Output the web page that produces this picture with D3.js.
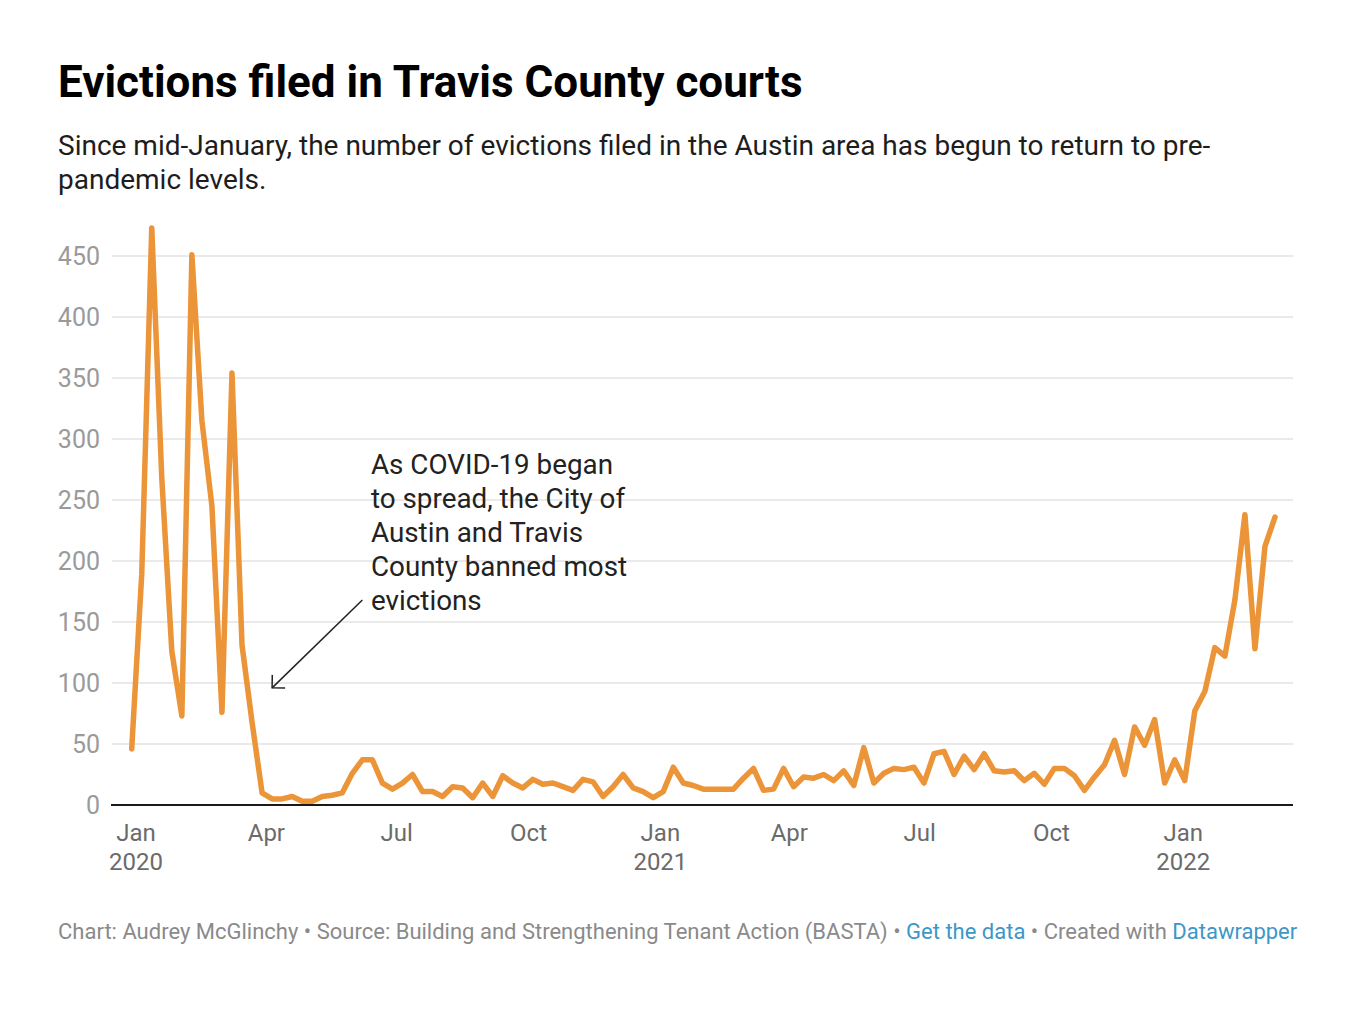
<!DOCTYPE html>
<html>
<head>
<meta charset="utf-8">
<script src="https://cdn.jsdelivr.net/npm/d3@7"></script>
<style>
  html, body { margin: 0; padding: 0; background: #fff; }
  svg { display: block; font-family: Roboto, "Noto Sans", sans-serif; }
</style>
</head>
<body>
<svg id="chart" width="1354" height="1014"></svg>
<script>
// ---- Data ----
const firstWeek = "2019-12-29";
const lastWeek = "2022-03-06";
const evictions = [
  46, 189, 473, 268, 126, 73, 451, 315, 245, 76,
  354, 131, 68, 10, 5, 5, 7, 3, 3, 7,
  8, 10, 26, 37, 37, 18, 13, 18, 25, 11,
  11, 7, 15, 14, 6, 18, 7, 24, 18, 14,
  21, 17, 18, 15, 12, 21, 19, 7, 15, 25,
  14, 11, 6, 11, 31, 18, 16, 13, 13, 13,
  13, 22, 30, 12, 13, 30, 15, 23, 22, 25,
  20, 28, 16, 47, 18, 26, 30, 29, 31, 18,
  42, 44, 25, 40, 29, 42, 28, 27, 28, 20,
  26, 17, 30, 30, 24, 12, 23, 33, 53, 25,
  64, 49, 70, 18, 37, 20, 77, 93, 129, 122,
  168, 238, 128, 212, 236
];
const yTicks = [0, 50, 100, 150, 200, 250, 300, 350, 400, 450];
const xTickDates = ["2020-01-01","2020-04-01","2020-07-01","2020-10-01","2021-01-01","2021-04-01","2021-07-01","2021-10-01","2022-01-01"];
const xTickMonths = ["Jan","Apr","Jul","Oct","Jan","Apr","Jul","Oct","Jan"];
const xTickYears = ["2020","","","","2021","","","","2022"];
const titleText = "Evictions filed in Travis County courts";
const subtitleLines = ["Since mid-January, the number of evictions filed in the Austin area has begun to return to pre-", "pandemic levels."];
const annotationLines = ["As COVID-19 began", "to spread, the City of", "Austin and Travis", "County banned most", "evictions"];
const annotationText = { date: "2020-06-13", value: 271 };
const annotationArrow = { fromDate: "2020-06-07", fromValue: 168, toDate: "2020-04-05", toValue: 96 };

// ---- Build ----
const parse = d3.utcParse("%Y-%m-%d");
const dates = d3.utcWeek.range(parse(firstWeek), d3.utcDay.offset(parse(lastWeek), 1));
const data = dates.map((d, i) => ({ date: d, value: evictions[i] }));

const svg = d3.select("#chart");
const plotLeft = 112, plotRight = 1293;

const x = d3.scaleUtc()
  .domain([parse(firstWeek), parse(lastWeek)])
  .range([131.7, 1275]);
const y = d3.scaleLinear().domain([0, 450]).range([805, 256]);

// Title / subtitle
svg.append("text").attr("x", 58).attr("y", 97)
  .attr("font-size", 44).attr("font-weight", 700).attr("fill", "#000")
  .text(titleText);
subtitleLines.forEach((t, i) => {
  svg.append("text").attr("x", 58).attr("y", 155 + i * 34)
    .attr("font-size", 28).attr("fill", "#1d1d1d").text(t);
});

// Gridlines
const grid = svg.append("g");
grid.selectAll("line").data(yTicks.filter(v => v > 0)).join("line")
  .attr("x1", plotLeft).attr("x2", plotRight)
  .attr("y1", d => y(d)).attr("y2", d => y(d))
  .attr("stroke", "#e3e3e3").attr("stroke-width", 1.5);

// Y labels
svg.append("g").selectAll("text").data(yTicks).join("text")
  .attr("x", 100).attr("y", d => y(d)).attr("dy", "0.36em")
  .attr("text-anchor", "end").attr("font-size", 25).attr("fill", "#9a9a9a")
  .text(d => d);

// X axis line
svg.append("line").attr("x1", plotLeft - 1).attr("x2", plotRight)
  .attr("y1", y(0)).attr("y2", y(0)).attr("stroke", "#1a1a1a").attr("stroke-width", 2);

// X labels
const xg = svg.append("g");
xTickDates.forEach((d, i) => {
  const xp = x(parse(d));
  xg.append("text").attr("x", xp).attr("y", 841).attr("text-anchor", "middle")
    .attr("font-size", 24).attr("fill", "#6b6b6b").text(xTickMonths[i]);
  if (xTickYears[i]) {
    xg.append("text").attr("x", xp).attr("y", 870).attr("text-anchor", "middle")
      .attr("font-size", 24).attr("fill", "#6b6b6b").text(xTickYears[i]);
  }
});

// Line
const line = d3.line().x(d => x(d.date)).y(d => y(d.value)).curve(d3.curveLinear);
svg.append("path").datum(data)
  .attr("d", line)
  .attr("fill", "none").attr("stroke", "#ec9438").attr("stroke-width", 5.5)
  .attr("stroke-linejoin", "round").attr("stroke-linecap", "round");

// Annotation
const ax = x(parse(annotationText.date)), ay = y(annotationText.value);
annotationLines.forEach((t, i) => {
  svg.append("text").attr("x", ax).attr("y", ay + i * 33.8)
    .attr("font-size", 27.8).attr("fill", "#222").text(t);
});
const fx = x(parse(annotationArrow.fromDate)), fy = y(annotationArrow.fromValue);
const tx = x(parse(annotationArrow.toDate)), ty = y(annotationArrow.toValue);
svg.append("line").attr("x1", fx).attr("y1", fy).attr("x2", tx).attr("y2", ty)
  .attr("stroke", "#222").attr("stroke-width", 1.5);
const ang = Math.atan2(fy - ty, fx - tx);
const headLen = 13;
const hp = [ang - Math.PI / 4, ang + Math.PI / 4].map(a => [tx + headLen * Math.cos(a), ty + headLen * Math.sin(a)]);
svg.append("path")
  .attr("d", `M${hp[0][0]},${hp[0][1]}L${tx},${ty}L${hp[1][0]},${hp[1][1]}`)
  .attr("fill", "none").attr("stroke", "#222").attr("stroke-width", 1.5);

// Footer
const foot = svg.append("text").attr("x", 58).attr("y", 939).attr("font-size", 22).attr("fill", "#8a8a8a");
foot.append("tspan").text("Chart: Audrey McGlinchy • Source: Building and Strengthening Tenant Action (BASTA) • ");
foot.append("tspan").attr("fill", "#3d97c6").text("Get the data");
foot.append("tspan").text(" • Created with ");
foot.append("tspan").attr("fill", "#3d97c6").text("Datawrapper");
</script>
</body>
</html>
